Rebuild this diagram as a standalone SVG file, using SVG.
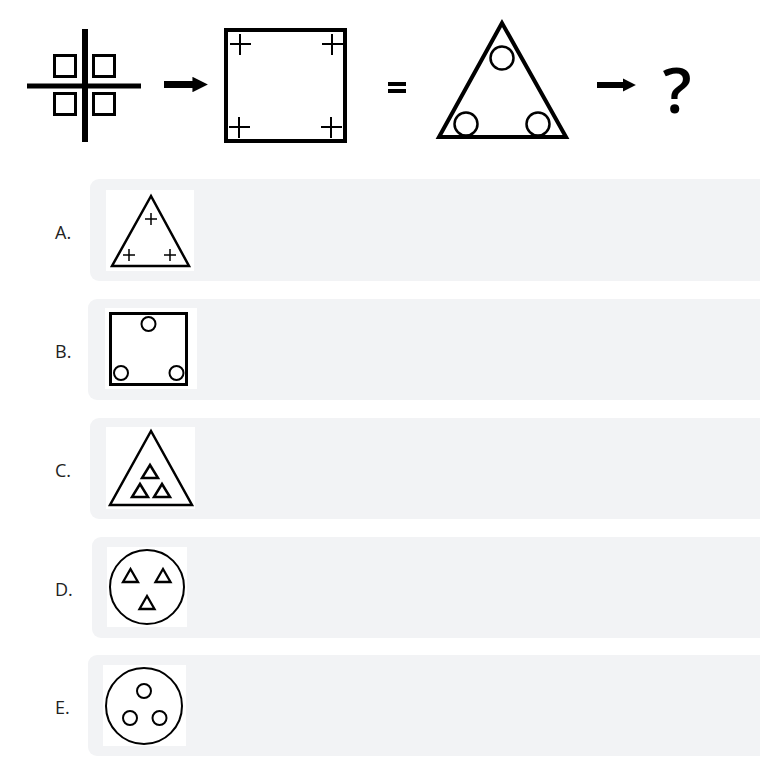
<svg xmlns="http://www.w3.org/2000/svg" width="760" height="760" viewBox="0 0 760 760">
<style>
.card{fill:#f2f3f5}
.box{fill:#fff}
.lbl{font-family:"Open Sans","Liberation Sans",sans-serif;font-size:18px;fill:#222}
.k{fill:none;stroke:#000}
</style>
<defs>
<marker id="ah" viewBox="0 0 10 10" refX="1" refY="5" markerWidth="2.2" markerHeight="2.2" orient="auto" markerUnits="strokeWidth">
<path d="M0,0 L10,5 L0,10 Z" fill="#000"/>
</marker>
</defs>
<rect width="760" height="760" fill="#fff"/>

<g id="q-fig1">
<line class="k" x1="85" y1="29" x2="85" y2="142" stroke-width="6"/>
<line class="k" x1="27" y1="86" x2="141" y2="86" stroke-width="5"/>
<rect class="k" x="54.5" y="55.5" width="21" height="21" stroke-width="3"/>
<rect class="k" x="93.5" y="55.5" width="21" height="21" stroke-width="3"/>
<rect class="k" x="54.5" y="93.5" width="21" height="21" stroke-width="3"/>
<rect class="k" x="93.5" y="93.5" width="21" height="21" stroke-width="3"/>
</g>

<g id="connectors">
<line class="k" x1="164" y1="84.5" x2="194" y2="84.5" stroke-width="7" marker-end="url(#ah)"/>
<line class="k" x1="597" y1="85" x2="624" y2="85" stroke-width="6" marker-end="url(#ah)"/>
</g>

<g id="q-fig2">
<rect class="k" x="226" y="30" width="119" height="111" stroke-width="4"/>
<path class="k" stroke-width="2" d="M230,44h21M240,34v21M322,44h21M332,34v21M229,127h21M239,117v21M321,127h21M331,117v21"/>
</g>

<g id="equals">
<rect x="388" y="82" width="18" height="4" fill="#000"/>
<rect x="388" y="89" width="18" height="4" fill="#000"/>
</g>

<g id="q-fig3">
<polygon class="k" points="502,23 439,137 566,137" stroke-width="4" stroke-linejoin="miter"/>
<circle class="k" cx="502" cy="58" r="11.5" stroke-width="2.5"/>
<circle class="k" cx="466" cy="124" r="11.5" stroke-width="2.5"/>
<circle class="k" cx="538" cy="124" r="11.5" stroke-width="2.5"/>
</g>

<g id="question">
<text x="677" y="113" text-anchor="middle" font-family="Open Sans, Liberation Sans, sans-serif" font-size="64" font-weight="600" fill="#000">?</text>
</g>

<g id="optA">
<rect class="card" x="90" y="179" width="690" height="102" rx="9"/>
<text class="lbl" x="55" y="239">A.</text>
<rect class="box" x="106" y="190" width="88" height="81"/>
<polygon class="k" points="151,196 112,266 189,266" stroke-width="2.5"/>
<path class="k" stroke-width="1.5" d="M145,219h12M151,213v12M123,255h12M129,249v12M164,255h12M170,249v12"/>
</g>

<g id="optB">
<rect class="card" x="88" y="299" width="690" height="101" rx="9"/>
<text class="lbl" x="55" y="358">B.</text>
<rect class="box" x="105" y="308" width="92" height="81"/>
<rect class="k" x="110.5" y="313.5" width="76" height="71" stroke-width="3"/>
<circle class="k" cx="148.5" cy="324" r="7" stroke-width="2"/>
<circle class="k" cx="121" cy="373" r="7" stroke-width="2"/>
<circle class="k" cx="176.5" cy="373" r="7" stroke-width="2"/>
</g>

<g id="optC">
<rect class="card" x="90" y="418" width="690" height="101" rx="9"/>
<text class="lbl" x="55" y="477">C.</text>
<rect class="box" x="106" y="427" width="89" height="82"/>
<polygon class="k" points="151,431 110,505 192,505" stroke-width="2.5"/>
<polygon class="k" points="150,465 142,478 158,478" stroke-width="2.5"/>
<polygon class="k" points="140,484 132,497 148,497" stroke-width="2.5"/>
<polygon class="k" points="162,484 154,497 170,497" stroke-width="2.5"/>
</g>

<g id="optD">
<rect class="card" x="92" y="537" width="690" height="101" rx="9"/>
<text class="lbl" x="55" y="596">D.</text>
<rect class="box" x="107" y="547" width="80" height="80"/>
<circle class="k" cx="147" cy="587" r="37" stroke-width="2"/>
<polygon class="k" points="130.5,569 123,582 138,582" stroke-width="2.3"/>
<polygon class="k" points="163,569 155.5,582 170.5,582" stroke-width="2.3"/>
<polygon class="k" points="147,596 139.5,609 154.5,609" stroke-width="2.3"/>
</g>

<g id="optE">
<rect class="card" x="88" y="655" width="690" height="101" rx="9"/>
<text class="lbl" x="55" y="714">E.</text>
<rect class="box" x="103" y="665" width="83" height="81"/>
<circle class="k" cx="144" cy="706" r="38" stroke-width="2"/>
<circle class="k" cx="144" cy="691" r="7" stroke-width="2"/>
<circle class="k" cx="130" cy="718" r="7" stroke-width="2"/>
<circle class="k" cx="159.5" cy="718" r="7" stroke-width="2"/>
</g>
</svg>
